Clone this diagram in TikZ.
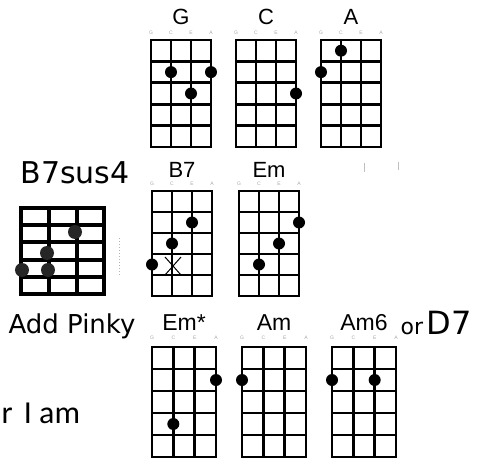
\documentclass[tikz,border=0pt]{standalone}
\usepackage{fontspec}
\setsansfont{Liberation Sans}
\newfontfamily\scrawlfont{DejaVu Sans}
\newfontfamily\lyricfont{Carlito}
\usetikzlibrary{positioning}
\tikzset{
GridStyle/.style  ={line width=2.6pt, line cap=rect},
DotStyle/.style   ={circle, fill=black, inner sep=0pt, minimum size=12pt},
NameStyle/.style  ={anchor=base, font=\sffamily\fontsize{\fs}{\fs}\selectfont},
StringStyle/.style={text=black!35, font=\sffamily\fontsize{5}{5}\selectfont},
ScrawlStyle/.style={anchor=base west, font=\scrawlfont},
SmudgeStyle/.style={circle, fill=black!85, inner sep=0pt, minimum size=14pt},
}
% one chord box: name, label, top left corner, string/fret dots
\newcommand\UkeChord[4]{%
\begin{scope}[shift={(#3)}]
\foreach \s in {0,...,3} \draw[GridStyle] (\s*\gw/3,0) -- (\s*\gw/3,\gh);
\foreach \f in {0,...,5} \draw[GridStyle] (0,\f*\gh/5) -- (\gw,\f*\gh/5);
\foreach \t [count=\s from 0] in {G,C,E,A} \node[StringStyle] at (\s*\gw/3,-\sg) {\t};
\node[NameStyle] (#1) at (\gw/2,-\lg) {#2};
\foreach \s/\f in {#4} \node[DotStyle] at (\s*\gw/3,{(\f-0.5)*\gh/5}) {};
\end{scope}}

\begin{document}
\begin{tikzpicture}[x=1pt, y=-1pt]
\useasboundingbox (0,0) rectangle (482,460);

\begin{scope}  % first row
\def\gw{60}\def\gh{107}\def\fs{22}\def\lg{15}\def\sg{7}
\UkeChord{ChordG}{G}{151,40}{1/2, 3/2, 2/3}
\UkeChord{ChordC}{C}{236,40}{3/3}
\UkeChord{ChordA}{A}{321,40}{0/2, 1/1}
\end{scope}

\begin{scope}  % second row
\def\gw{60}\def\gh{105}\def\fs{22}\def\lg{14}\def\sg{7}
\UkeChord{ChordBseven}{B7}{152,191}{2/2, 1/3, 0/4}
\UkeChord{ChordEm}{Em}{239,191}{3/2, 2/3, 1/4}
\end{scope}
\draw[line width=1pt] (165,257) -- (181,275) (181,257) -- (165,275);

\begin{scope}  % third row
\def\gw{64}\def\gh{110}\def\fs{23}\def\lg{17}\def\sg{9}
\UkeChord{ChordEmStar}{Em*}{152,347}{3/2, 1/4}
\UkeChord{ChordAm}{Am}{242,347}{0/2}
\UkeChord{ChordAmSix}{Am6}{332,347}{0/2, 2/2}
\end{scope}

% hand drawn box on the left
\begin{scope}[line width=4pt, line cap=rect]
\foreach \x in {21,49,77,104} \draw (\x,208) -- (\x,294);
\foreach \y in {208,225.2,242.4,259.6,276.8,294} \draw (21,\y) -- (104,\y);
\node[SmudgeStyle] at (22,270) {};
\node[SmudgeStyle] at (48,270) {};
\node[SmudgeStyle] at (47,253) {};
\node[SmudgeStyle] at (75,232) {};
\end{scope}

\node[ScrawlStyle, font=\scrawlfont\fontsize{30}{30}\selectfont] (Sus) at (17,183) {B7sus4};
\node[ScrawlStyle, font=\scrawlfont\fontsize{26}{26}\selectfont] (Pinky) at (5,333) {Add Pinky};
\node[ScrawlStyle, font=\scrawlfont\fontsize{22}{22}\selectfont] (OrD) at (397,334)
  {or\,{\fontsize{32}{32}\selectfont D7}};
\node[anchor=base west, font=\lyricfont\fontsize{32}{32}\selectfont] (Lyric) at (-2,423)
  {r\hspace{4pt} I am};

% faint scan marks
\draw[black!25, line width=0.8pt] (364,163) -- (364,172) (398,162) -- (398,170);
\draw[black!30, line width=1pt, dotted] (119,238) -- (119,275);
\end{tikzpicture}
\end{document}
